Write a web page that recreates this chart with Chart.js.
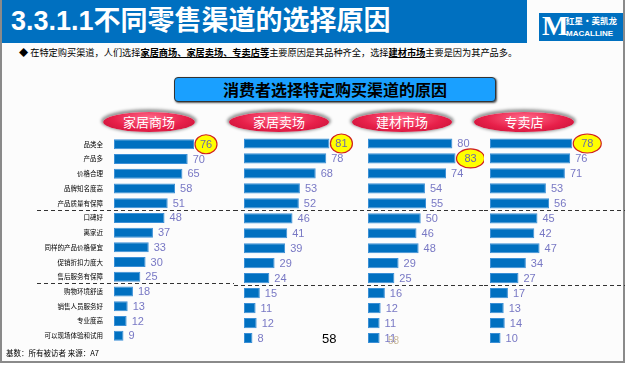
<!DOCTYPE html>
<html>
<head>
<meta charset="utf-8">
<script src="https://cdn.jsdelivr.net/npm/chart.js@4"></script>
<style>
  body { margin: 0; width: 625px; height: 365px; overflow: hidden; background: #fff; font-family: Arial, "Liberation Sans", "Noto Sans CJK SC", sans-serif; }
  #page { position: absolute; left: 0; top: 0; width: 621px; height: 361px; border-left: 2px solid #8a8a8a; border-right: 2px solid #8a8a8a; border-bottom: 2px solid #8a8a8a; background: #fcfcfc; }
  .abs { position: absolute; }
  #titlebar { left: 0; top: 0; width: 525px; height: 43px; background: #0070c0; }
  #title { left: 9px; top: 3px; color: #fff; font-weight: bold; font-size: 27px; line-height: 36px; white-space: nowrap; font-family: Arial, "Noto Sans CJK SC"; }
  #logo { left: 537px; top: 13px; width: 84px; height: 28px; background: #0070c0; color: #fff; }
  #logo .m { position: absolute; left: 3px; top: -2px; font: bold 28px "Liberation Serif", serif; line-height: 30px; }
  #logo .cn { position: absolute; left: 27px; top: 2px; font: bold 8.5px "Noto Sans CJK SC"; line-height: 11px; white-space: nowrap; }
  #logo .en { position: absolute; left: 27px; top: 15px; font: bold 8px Arial; line-height: 11px; }
  #bullet { left: 17px; top: 46px; font-size: 9.2px; line-height: 12px; white-space: nowrap; color: #000; font-family: "Noto Sans CJK SC"; }
  #bullet u { font-weight: bold; }
  #box { left: 172px; top: 77px; width: 320px; height: 23px; background: #1aa0ff; border: 1px solid #333; border-radius: 4px; box-shadow: 1px 1px 2px #555; text-align: center; font: bold 16px "Noto Sans CJK SC"; line-height: 23px; color: #000; }
  .pill { top: 112px; height: 20px; border-radius: 50%; background: radial-gradient(ellipse at 50% 30%, #ff6b8a 0%, #e8204a 55%, #c01035 100%); box-shadow: 0 -1px 3px 2px #999; color: #fff; text-align: center; font: 13px "Noto Sans CJK SC"; line-height: 20px; }
  canvas { position: absolute; }
  #pageno { left: 320px; top: 331px; font: 13px Arial; color: #000; }
  #ghost { left: 386px; top: 335px; font: 10px Arial; color: #c9b89a; }
  #foot { left: 4px; top: 347px; font: 7.5px "Noto Sans CJK SC"; color: #000; white-space: nowrap; }
</style>
</head>
<body>
<div id="page">
  <div id="titlebar" class="abs"></div>
  <div id="title" class="abs">3.3.1.1不同零售渠道的选择原因</div>
  <div id="logo" class="abs"><span class="m">M</span><span class="cn">红星·美凯龙</span><span class="en">MACALLINE</span></div>
  <div id="bullet" class="abs">◆ 在特定购买渠道，人们选择<u>家居商场、家居卖场、专卖店等</u>主要原因是其品种齐全，选择<u>建材市场</u>主要是因为其产品多。</div>
  <div id="box" class="abs">消费者选择特定购买渠道的原因</div>
  <div class="abs pill" style="left:101px;width:92px;">家居商场</div>
  <div class="abs pill" style="left:227px;width:100px;">家居卖场</div>
  <div class="abs pill" style="left:350px;width:100px;">建材市场</div>
  <div class="abs pill" style="left:472px;width:100px;">专卖店</div>
  <canvas id="c1" width="202" height="220" style="left:30px;top:130px;"></canvas>
  <canvas id="c2" width="126" height="220" style="left:232px;top:130px;"></canvas>
  <canvas id="c3" width="124" height="220" style="left:358px;top:130px;"></canvas>
  <canvas id="c4" width="141" height="220" style="left:482px;top:130px;"></canvas>
  <div id="pageno" class="abs">58</div>
  <div id="ghost" class="abs">58</div>
  <div id="foot" class="abs">基数：所有被访者 来源：A7</div>
</div>
<script>
const categories = ['品类全', '产品多', '价格合理', '品牌知名度高', '产品质量有保障', '口碑好', '离家近',
  '同样的产品价格便宜', '促销折扣力度大', '售后服务有保障', '购物环境舒适', '销售人员服务好', '专业度高', '可以现场体验和试用'];
const channels = ['家居商场', '家居卖场', '建材市场', '专卖店'];
const homeMall = [76, 70, 65, 58, 51, 48, 37, 33, 30, 25, 18, 13, 12, 9];
const homeStore = [81, 78, 68, 53, 52, 46, 41, 39, 29, 24, 15, 11, 12, 8];
const buildingMarket = [80, 83, 74, 54, 55, 50, 46, 48, 29, 25, 16, 12, 11, 11];
const specialtyStore = [78, 76, 71, 53, 56, 45, 42, 47, 34, 27, 17, 13, 14, 10];
const highlighted = [0, 0, 1, 0];
const dividers = [4, 9]; // dashed line after these rows

// draws value labels, the yellow highlight ovals and the dashed group lines
const barDecor = {
  id: 'barDecor',
  afterDatasetsDraw(chart) {
    const o = chart.options.plugins.barDecor;
    const ctx = chart.ctx;
    const ys = chart.scales.y;
    const meta = chart.getDatasetMeta(0);
    const vals = chart.data.datasets[0].data;

    ctx.save();
    ctx.strokeStyle = '#333';
    ctx.lineWidth = 1;
    ctx.setLineDash([4, 3]);
    dividers.forEach(d => {
      const y = Math.round((ys.getPixelForValue(d) + ys.getPixelForValue(d + 1)) / 2) - 0.5;
      ctx.beginPath();
      ctx.moveTo(o.lineFrom, y);
      ctx.lineTo(chart.width, y);
      ctx.stroke();
    });
    ctx.setLineDash([]);

    ctx.font = '11px Arial';
    ctx.textBaseline = 'middle';
    meta.data.forEach((bar, i) => {
      if (i === o.highlight) {
        const cx = bar.x + o.rx + 1;
        ctx.beginPath();
        ctx.ellipse(cx, bar.y, o.rx, 9.5, 0, 0, Math.PI * 2);
        ctx.fillStyle = '#ffff00';
        ctx.fill();
        ctx.strokeStyle = '#d02020';
        ctx.lineWidth = 1.2;
        ctx.stroke();
        ctx.fillStyle = '#6a6aa8';
        ctx.textAlign = 'center';
        ctx.fillText(vals[i], cx, bar.y + 0.5);
      } else {
        ctx.fillStyle = '#7878c4';
        ctx.textAlign = 'left';
        ctx.fillText(vals[i], bar.x + 5, bar.y + 0.5);
      }
    });
    ctx.restore();
  }
};

function makePanel(id, values, opts) {
  new Chart(document.getElementById(id), {
    type: 'bar',
    data: {
      labels: categories,
      datasets: [{
        label: opts.name,
        data: values,
        backgroundColor: '#0070c0',
        borderColor: '#3b8fd6',
        borderWidth: 1,
        borderSkipped: false,
        barPercentage: 1,
        categoryPercentage: 0.68
      }]
    },
    options: {
      indexAxis: 'y',
      responsive: false,
      animation: false,
      layout: { padding: { left: opts.padLeft, right: 0, top: 6, bottom: 4.5 } },
      scales: {
        x: { display: false, min: 0, max: opts.xMax },
        y: {
          display: opts.showLabels,
          grid: { display: false },
          border: { display: false },
          ticks: { font: { size: 6.5, family: 'Noto Sans CJK SC' }, color: '#000', padding: 3, autoSkip: false },
          afterFit(scale) { if (opts.showLabels) scale.width = 82; }
        }
      },
      plugins: {
        legend: { display: false },
        tooltip: { enabled: false },
        barDecor: { highlight: opts.highlight, lineFrom: opts.lineFrom, rx: opts.rx }
      }
    },
    plugins: [barDecor]
  });
}

makePanel('c1', homeMall, { name: channels[0], padLeft: 0, xMax: 114, showLabels: true, highlight: highlighted[0], lineFrom: 5, rx: 11 });
makePanel('c2', homeStore, { name: channels[1], padLeft: 10, xMax: 110, showLabels: false, highlight: highlighted[1], lineFrom: 0, rx: 11 });
makePanel('c3', buildingMarket, { name: channels[2], padLeft: 8, xMax: 110, showLabels: false, highlight: highlighted[2], lineFrom: 0, rx: 14 });
makePanel('c4', specialtyStore, { name: channels[3], padLeft: 6, xMax: 128, showLabels: false, highlight: highlighted[3], lineFrom: 0, rx: 14 });
</script>
</body>
</html>
